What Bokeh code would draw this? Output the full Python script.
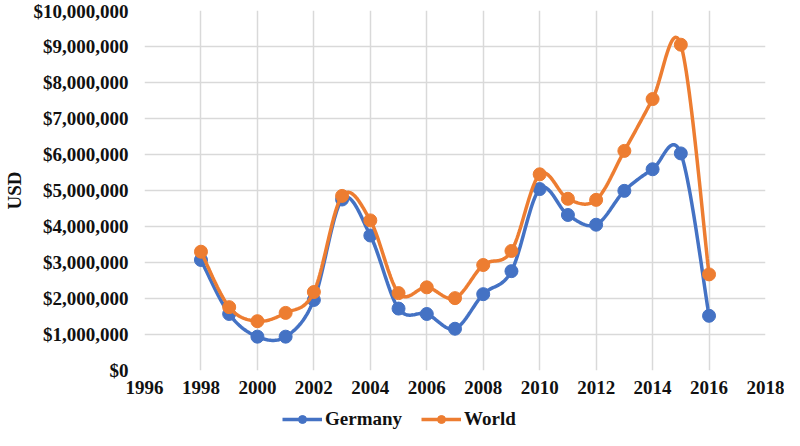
import numpy as np
from bokeh.plotting import figure
from bokeh.layouts import column
from bokeh.models import (NumeralTickFormatter, FixedTicker, Range1d, Legend, LegendItem)
from bokeh.embed import file_html
from bokeh.resources import INLINE

years = [1998, 1999, 2000, 2001, 2002, 2003, 2004, 2005, 2006, 2007,
         2008, 2009, 2010, 2011, 2012, 2013, 2014, 2015, 2016]
germany = [3.07e6, 1.57e6, 0.94e6, 0.94e6, 1.96e6, 4.75e6, 3.75e6, 1.72e6, 1.57e6, 1.16e6,
           2.12e6, 2.76e6, 5.04e6, 4.32e6, 4.05e6, 4.99e6, 5.59e6, 6.03e6, 1.52e6]
world = [3.30e6, 1.76e6, 1.37e6, 1.60e6, 2.18e6, 4.85e6, 4.17e6, 2.15e6, 2.31e6, 2.01e6,
         2.93e6, 3.32e6, 5.45e6, 4.77e6, 4.74e6, 6.10e6, 7.54e6, 9.05e6, 2.67e6]
x_ticks = [1996, 1998, 2000, 2002, 2004, 2006, 2008, 2010, 2012, 2014, 2016, 2018]
y_ticks = [0, 1e6, 2e6, 3e6, 4e6, 5e6, 6e6, 7e6, 8e6, 9e6, 10e6]

BLUE = "#4472C4"
ORANGE = "#ED7D31"
FONT = "Liberation Serif"
TXT = "#111111"


def smooth(xs, ys, n=30):
    # Excel-like smoothed line: Catmull-Rom cubic Bezier segments
    xs = np.asarray(xs, float)
    ys = np.asarray(ys, float)
    px = np.concatenate([[xs[0]], xs, [xs[-1]]])
    py = np.concatenate([[ys[0]], ys, [ys[-1]]])
    out_x, out_y = [], []
    t = np.linspace(0, 1, n)
    for i in range(1, len(px) - 2):
        p0 = np.array([px[i], py[i]])
        p3 = np.array([px[i + 1], py[i + 1]])
        c1 = p0 + (np.array([px[i + 1], py[i + 1]]) - np.array([px[i - 1], py[i - 1]])) / 6
        c2 = p3 - (np.array([px[i + 2], py[i + 2]]) - np.array([px[i], py[i]])) / 6
        b = ((1 - t) ** 3)[:, None] * p0 + (3 * (1 - t) ** 2 * t)[:, None] * c1 \
            + (3 * (1 - t) * t ** 2)[:, None] * c2 + (t ** 3)[:, None] * p3
        if i > 1:
            b = b[1:]
        out_x.extend(b[:, 0])
        out_y.extend(b[:, 1])
    return out_x, out_y


gx, gy = smooth(years, germany)
wx, wy = smooth(years, world)

# ---- main chart ----
p = figure(width=784, height=405, output_backend="svg", toolbar_location=None,
           x_range=Range1d(1996, 2018), y_range=Range1d(0, 10e6),
           min_border_left=140, min_border_right=19, min_border_top=10, min_border_bottom=35)
p.outline_line_color = None
p.background_fill_color = "white"

p.xgrid.grid_line_color = "#d9d9d9"
p.ygrid.grid_line_color = "#d9d9d9"
p.xgrid.grid_line_width = 1.5
p.ygrid.grid_line_width = 1.5

p.line(gx, gy, line_color=BLUE, line_width=3.5)
p.scatter(years, germany, size=13, fill_color=BLUE, line_color=BLUE)
p.line(wx, wy, line_color=ORANGE, line_width=3.5)
p.scatter(years, world, size=13, fill_color=ORANGE, line_color=ORANGE)

p.xaxis.ticker = FixedTicker(ticks=x_ticks)
p.yaxis.ticker = FixedTicker(ticks=y_ticks)
p.yaxis.formatter = NumeralTickFormatter(format="$0,0")
for ax in (p.xaxis[0], p.yaxis[0]):
    ax.axis_line_color = None
    ax.major_tick_line_color = None
    ax.minor_tick_line_color = None
    ax.major_tick_out = 0
    ax.major_tick_in = 0
    ax.minor_tick_out = 0
    ax.major_label_text_font = FONT
    ax.major_label_text_font_style = "bold"
    ax.major_label_text_font_size = "19px"
    ax.major_label_text_color = TXT
p.yaxis.major_label_standoff = 16
p.xaxis.major_label_standoff = 10
p.yaxis.axis_label = "USD"
p.yaxis.axis_label_text_font = FONT
p.yaxis.axis_label_text_font_style = "bold"
p.yaxis.axis_label_text_font_size = "19px"
p.yaxis.axis_label_text_color = TXT
p.yaxis.axis_label_standoff = 6

# ---- legend strip (same series, renderers hidden) ----
q = figure(width=784, height=25, output_backend="svg", toolbar_location=None,
           x_range=Range1d(1996, 2018), y_range=Range1d(0, 10e6),
           x_axis_type=None, y_axis_type=None,
           min_border_left=0, min_border_right=0, min_border_top=0, min_border_bottom=0)
q.outline_line_color = None
q.xgrid.visible = False
q.ygrid.visible = False
lg = q.line(gx, gy, line_color=BLUE, line_width=3.5, visible=False)
sg = q.scatter(years, germany, size=13, fill_color=BLUE, line_color=BLUE, visible=False)
lw = q.line(wx, wy, line_color=ORANGE, line_width=3.5, visible=False)
sw = q.scatter(years, world, size=13, fill_color=ORANGE, line_color=ORANGE, visible=False)

legend = Legend(items=[LegendItem(label="Germany", renderers=[lg, sg]),
                       LegendItem(label="World", renderers=[lw, sw])],
                orientation="horizontal", location=(138, 0),
                glyph_width=40, glyph_height=20, padding=0, margin=0, spacing=19,
                label_text_font=FONT, label_text_font_style="bold",
                label_text_font_size="19px", label_text_color=TXT,
                border_line_color=None, background_fill_alpha=0, label_standoff=3)
q.add_layout(legend, "center")

layout = column(p, q, spacing=0)
open("out.html", "w").write(file_html(layout, INLINE))
